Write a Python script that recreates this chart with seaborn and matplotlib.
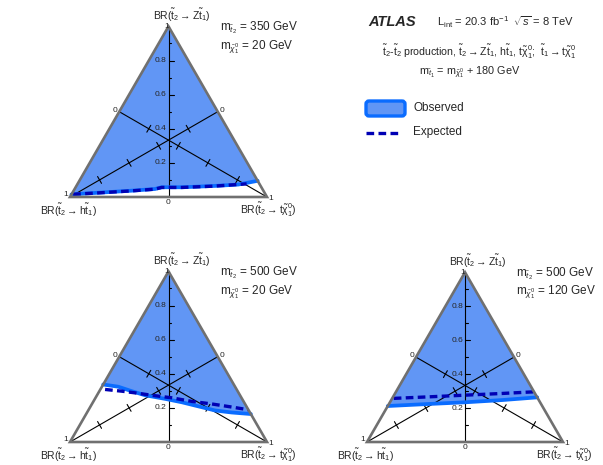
import numpy as np
import pandas as pd
import matplotlib
matplotlib.use('Agg')
import matplotlib.pyplot as plt
import seaborn as sns
from matplotlib.patches import Polygon, FancyBboxPatch

sns.set_theme(style='white')
plt.rcParams['font.family'] = ['Liberation Sans', 'DejaVu Sans']
plt.rcParams['mathtext.fontset'] = 'custom'
plt.rcParams['mathtext.rm'] = 'Liberation Sans'
plt.rcParams['mathtext.it'] = 'Liberation Sans:italic'
plt.rcParams['mathtext.bf'] = 'Liberation Sans:bold'
plt.rcParams['mathtext.sf'] = 'Liberation Sans'

# ---------------- data (ternary coordinates: BR(t chi), BR(Z t1)) ----------------
m_stop2 = [350, 500, 500]
m_lsp = [20, 20, 120]

obs1_tchi = [0.0, 0.131, 0.295, 0.408, 0.437, 0.539, 0.704, 0.818, 0.905]
obs1_z = [0.015, 0.025, 0.037, 0.047, 0.057, 0.057, 0.065, 0.073, 0.095]
exp1_tchi = [0.008, 0.131, 0.295, 0.408, 0.437, 0.539, 0.704, 0.858]
exp1_z = [0.016, 0.024, 0.036, 0.046, 0.056, 0.056, 0.064, 0.077]

obs2_tchi = [0.0, 0.083, 0.164, 0.244, 0.356, 0.451, 0.547, 0.643, 0.734, 0.836]
obs2_z = [0.337, 0.324, 0.298, 0.274, 0.253, 0.233, 0.209, 0.185, 0.173, 0.164]
exp2_tchi = [0.024, 0.113, 0.186, 0.278, 0.387, 0.499, 0.608, 0.718, 0.81]
exp2_z = [0.308, 0.298, 0.288, 0.274, 0.259, 0.238, 0.223, 0.205, 0.189]

obs3_tchi = [0.0, 0.203, 0.385, 0.565, 0.737]
obs3_z = [0.212, 0.224, 0.234, 0.247, 0.263]
exp3_tchi = [0.008, 0.182, 0.364, 0.546, 0.711]
exp3_z = [0.257, 0.266, 0.276, 0.286, 0.296]

vert_ticks = [0.2, 0.4, 0.6, 0.8]
median_ticks = [0.2, 0.4, 0.6, 0.8]

FILL = '#6196f5'
OBS_LINE = '#0a6cff'
EXP_LINE = '#0000b4'
EDGE = '#707070'
H = np.sqrt(3) / 2

W, HT = 603, 465
fig = plt.figure(figsize=(W / 100, HT / 100), dpi=100)
fig.patch.set_facecolor('white')


def to_xy(tchi, z):
    tchi = np.asarray(tchi, float)
    z = np.asarray(z, float)
    return tchi + z / 2, z * H


def make_ax(px_left, py_base, s):
    x0, x1, y0, y1 = -0.25, 1.25, -0.15, 1.0
    left = (px_left + x0 * s) / W
    bottom = (HT - (py_base - y0 * s)) / HT
    ax = fig.add_axes([left, bottom, (x1 - x0) * s / W, (y1 - y0) * s / HT])
    ax.set_xlim(x0, x1)
    ax.set_ylim(y0, y1)
    ax.axis('off')
    return ax


def draw_panel(ax, obs_t, obs_z, exp_t, exp_z, mst, mlsp):
    ox, oy = to_xy(obs_t, obs_z)
    # observed excluded region: above contour up to apex
    poly = np.column_stack([np.append(ox, 0.5), np.append(oy, H)])
    ax.add_patch(Polygon(poly, closed=True, facecolor=FILL, edgecolor='none', zorder=1))

    # vertical axis (BR Z)
    ax.plot([0.5, 0.5], [0, H], color='black', lw=0.8, zorder=2)
    for k in range(1, 10):
        v = k / 10
        L = 0.028 if k % 2 == 0 else 0.014
        ax.plot([0.5, 0.5 + L], [v * H, v * H], color='black', lw=0.8, zorder=2)
    for v in vert_ticks:
        ax.text(0.49, v * H, f'{v:.1f}', ha='right', va='center', fontsize=6, zorder=5)

    # medians: left-mid -> right vertex (BR t chi), right-mid -> left vertex (BR h)
    a = np.array([0.25, H / 2]); b = np.array([1.0, 0.0])
    c = np.array([0.75, H / 2]); d = np.array([0.0, 0.0])
    for p, q in [(a, b), (c, d)]:
        ax.plot([p[0], q[0]], [p[1], q[1]], color='black', lw=0.8, zorder=2)
        dirv = (q - p) / np.linalg.norm(q - p)
        perp = np.array([-dirv[1], dirv[0]])
        for t in median_ticks:
            m = p + t * (q - p)
            e1 = m + perp * 0.02; e2 = m - perp * 0.02
            ax.plot([e1[0], e2[0]], [e1[1], e2[1]], color='black', lw=0.8, zorder=2)

    # contours
    ex, ey = to_xy(exp_t, exp_z)
    sns.lineplot(x=ox, y=oy, sort=False, estimator=None, ax=ax, color=OBS_LINE,
                 linewidth=2.7, zorder=3)
    sns.lineplot(x=ex, y=ey, sort=False, estimator=None, ax=ax, color=EXP_LINE,
                 linewidth=2.4, linestyle=(0, (2.3, 1.3)), zorder=4)

    # triangle outline
    ax.add_patch(Polygon([[0, 0], [1, 0], [0.5, H]], closed=True, fill=False,
                         edgecolor=EDGE, lw=1.9, joinstyle='miter', zorder=6))

    # corner / axis labels
    fs = 6
    ax.text(0.49, H, '1', ha='center', va='center', fontsize=fs, zorder=7)
    ax.text(0.5, -0.03, '0', ha='center', va='center', fontsize=fs)
    ax.text(0.228, 0.44, '0', ha='center', va='center', fontsize=fs)
    ax.text(0.772, 0.44, '0', ha='center', va='center', fontsize=fs)
    ax.text(-0.022, 0.012, '1', ha='center', va='center', fontsize=fs)
    ax.text(1.018, -0.008, '1', ha='center', va='center', fontsize=fs)

    lf = 7.5
    ax.text(0.566, 0.92, r'BR($\mathrm{\tilde{t}_2 \rightarrow Z\tilde{t}_1}$)',
            ha='center', va='center', fontsize=lf)
    ax.text(-0.008, -0.068, r'BR($\mathrm{\tilde{t}_2 \rightarrow h\tilde{t}_1}$)',
            ha='center', va='center', fontsize=lf)
    ax.text(1.005, -0.068, r'BR($\mathrm{\tilde{t}_2 \rightarrow t\tilde{\chi}^0_1}$)',
            ha='center', va='center', fontsize=lf)

    ax.text(0.76, 0.858, r'$\mathrm{m}_{\tilde{t}_2}$' + f' = {mst} GeV',
            ha='left', va='center', fontsize=8.5)
    ax.text(0.76, 0.762, r'$\mathrm{m}_{\tilde{\chi}^0_1}$' + f' = {mlsp} GeV',
            ha='left', va='center', fontsize=8.5)


panels = [
    ((70, 197, 197), obs1_tchi, obs1_z, exp1_tchi, exp1_z),
    ((70, 442, 197), obs2_tchi, obs2_z, exp2_tchi, exp2_z),
    ((367, 442, 196), obs3_tchi, obs3_z, exp3_tchi, exp3_z),
]
for i, (geom, ot, oz, et, ez) in enumerate(panels):
    ax = make_ax(*geom)
    draw_panel(ax, ot, oz, et, ez, m_stop2[i], m_lsp[i])

# ---------------- legend / header (pixel overlay) ----------------
ov = fig.add_axes([0, 0, 1, 1])
ov.set_xlim(0, W)
ov.set_ylim(HT, 0)
ov.axis('off')
ov.patch.set_alpha(0)

ov.text(368, 22, 'ATLAS', fontsize=10.5, fontweight='bold', fontstyle='italic',
        ha='left', va='center')
ov.text(437, 22, r'$\mathrm{L_{int}}$ = 20.3 fb$^{-1}$  $\sqrt{s}$ = 8 TeV',
        fontsize=8, ha='left', va='center')
ov.text(576, 52, r'$\mathrm{\tilde{t}_2}$-$\mathrm{\tilde{t}_2}$ production, '
        r'$\mathrm{\tilde{t}_2 \rightarrow Z\tilde{t}_1}$, $\mathrm{h\tilde{t}_1}$, '
        r'$\mathrm{t\tilde{\chi}^0_1}$;  $\mathrm{\tilde{t}_1 \rightarrow t\tilde{\chi}^0_1}$',
        fontsize=7.6, ha='right', va='center')
ov.text(470, 72, r'$\mathrm{m}_{\tilde{t}_1}$ = $\mathrm{m}_{\tilde{\chi}^0_1}$ + 180 GeV',
        fontsize=7.8, ha='center', va='center')

ov.add_patch(FancyBboxPatch((366, 101), 39, 15, boxstyle='round,pad=0,rounding_size=3',
                            facecolor=FILL, edgecolor=OBS_LINE, lw=2.4))
ov.text(413, 108, 'Observed', fontsize=8.5, ha='left', va='center')
ov.plot([366, 402], [133, 133], color=EXP_LINE, lw=2.4, linestyle=(0, (2.3, 1.3)))
ov.text(413, 132, 'Expected', fontsize=8.5, ha='left', va='center')

fig.savefig('out.png', dpi=100, facecolor='white')
